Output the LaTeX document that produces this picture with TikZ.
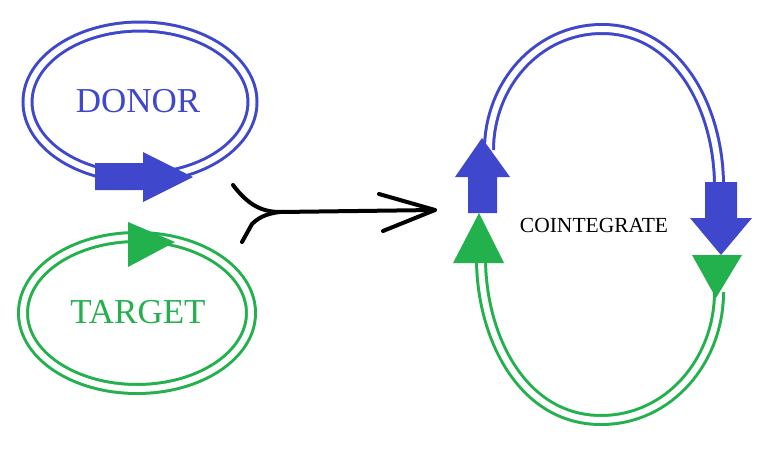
\documentclass[tikz,border=0pt]{standalone}
\usepackage{fontspec}
\setmainfont{Liberation Serif}
\definecolor{pblue}{RGB}{63,72,204}
\definecolor{pgreen}{RGB}{34,177,76}
\begin{document}
\begin{tikzpicture}[x=1pt,y=-1pt,
  dbl/.style={line width=3pt, double=white, double distance=6pt},
  big/.style={font=\fontsize{35}{40}\selectfont, inner sep=0pt},
  pen/.style={draw=black, line width=4pt, line cap=round, line join=round}]
\useasboundingbox[fill=white] (0,0) rectangle (768,458);
% donor plasmid
\draw[dbl, draw=pblue] (140,102) ellipse [x radius=112.5pt, y radius=75.5pt];
\node[big, text=pblue] (donor) at (138,101) {DONOR};
\fill[pblue] (95,163) -- (143,163) -- (143,152) -- (193,177) -- (143,202) -- (143,190) -- (95,190) -- cycle;
% target plasmid
\draw[dbl, draw=pgreen] (137,313) ellipse [x radius=114pt, y radius=76pt];
\node[big, text=pgreen] (target) at (138,312) {TARGET};
\fill[pgreen] (128,222) -- (175,242) -- (128,267) -- cycle;
% hand-drawn arrow
\coordinate (fa) at (233,185);
\coordinate (fb) at (242,242);
\coordinate (fm) at (280,212);
\coordinate (tip) at (435,210);
\draw[pen] (fa) .. controls (248,205) and (262,212) .. (fm);
\draw[pen] (fb) -- (252,224) .. controls (260,216) and (270,213) .. (fm);
\draw[pen] (fm) -- (tip);
\draw[pen] (379,194) -- (tip) -- (383,231);
% cointegrate
\draw[dbl, draw=pblue] (489,150) to[out=90,in=180] (602,29) to[out=0,in=90] (719,186);
\draw[dbl, draw=pgreen] (481,258) to[out=-90,in=180] (601,420) to[out=0,in=-90] (719,292);
\fill[pblue] (468,213) -- (468,177) -- (455,177) -- (482,138) -- (510,177) -- (497,177) -- (497,213) -- cycle;
\fill[pblue] (705,182) -- (737,182) -- (737,218) -- (752,218) -- (721,255) -- (690,218) -- (705,218) -- cycle;
\fill[pgreen] (479,213) -- (504,263) -- (453,263) -- cycle;
\fill[pgreen] (692,255) -- (742,255) -- (716,298) -- cycle;
\node[font=\fontsize{21.5}{24}\selectfont, inner sep=0pt] (coint) at (594,225) {COINTEGRATE};
\end{tikzpicture}
\end{document}
